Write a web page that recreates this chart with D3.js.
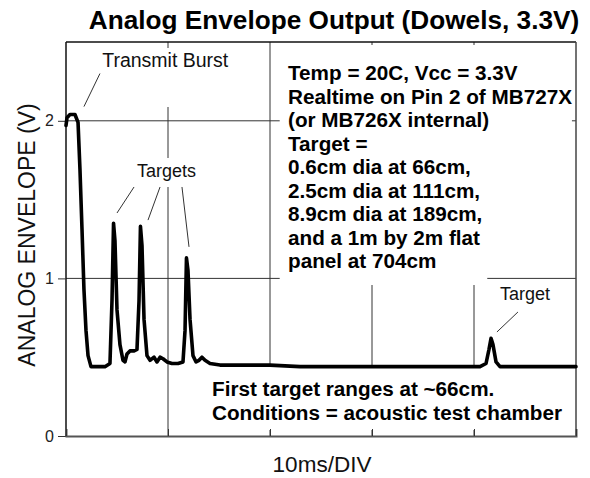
<!DOCTYPE html>
<html>
<head>
<meta charset="utf-8">
<script src="https://cdn.jsdelivr.net/npm/d3@7"></script>
<style>
  html, body { margin: 0; padding: 0; background: #fff; }
  svg { display: block; font-family: "Liberation Sans", Arial, sans-serif; }
</style>
</head>
<body>
<div id="chart"></div>
<script>
// ---------------- data ----------------
const chartTitle = "Analog Envelope Output (Dowels, 3.3V)";
const yAxisLabel = "ANALOG ENVELOPE (V)";
const xAxisLabel = "10ms/DIV";

// time in ms (10 ms per division, 5 divisions)
const timeMs = [
  0, 0.1, 0.39, 0.88, 1.18, 1.37, 1.57, 1.76, 1.96, 2.16, 2.45, 2.84, 3.33, 3.82,
  4.31, 4.51, 4.66, 4.8, 5.0, 5.29, 5.59, 5.78, 5.98, 6.27, 6.67, 6.96,
  7.16, 7.3, 7.45, 7.65, 7.94, 8.24, 8.63, 8.92, 9.22, 9.51, 9.9, 10.39, 10.98,
  11.47, 11.67, 11.81, 11.96, 12.16, 12.45, 12.75, 13.04, 13.33, 13.63, 14.12,
  15.1, 17.06, 20.0, 22.94, 25.88, 28.82, 32.75, 37.65, 40.59,
  41.18, 41.47, 41.67, 41.86, 42.16, 42.55, 45.49, 50
];
// envelope voltage in V
const envelopeV = [
  1.97, 2.02, 2.04, 2.04, 1.99, 1.69, 1.31, 0.93, 0.67, 0.51, 0.44, 0.44, 0.44, 0.44,
  0.46, 0.86, 1.35, 1.24, 0.80, 0.58, 0.48, 0.47, 0.52, 0.54, 0.54, 0.55,
  0.86, 1.33, 1.21, 0.74, 0.51, 0.48, 0.50, 0.47, 0.50, 0.49, 0.47, 0.46, 0.46,
  0.47, 0.67, 1.13, 1.05, 0.74, 0.51, 0.47, 0.48, 0.50, 0.48, 0.46,
  0.45, 0.45, 0.45, 0.44, 0.44, 0.44, 0.44, 0.44, 0.44,
  0.46, 0.55, 0.62, 0.58, 0.47, 0.44, 0.44, 0.44
];

const yTickValues = [0, 1, 2];
const yTickLabels = ["0", "1", "2"];
const xTickValues = [0, 10, 20, 30, 40, 50];

const infoLines = [
  "Temp = 20C, Vcc = 3.3V",
  "Realtime on Pin 2 of MB727X",
  "(or MB726X internal)",
  "Target =",
  "0.6cm dia at 66cm,",
  "2.5cm dia at 111cm,",
  "8.9cm dia at 189cm,",
  "and a 1m by 2m flat",
  "panel at 704cm"
];
const noteLines = [
  "First target ranges at ~66cm.",
  "Conditions = acoustic test chamber"
];

// ---------------- layout ----------------
const W = 590, H = 478;
const plot = { left: 66, right: 576, top: 42, bottom: 436 };

const svg = d3.select("#chart").append("svg")
  .attr("width", W).attr("height", H);

const x = d3.scaleLinear().domain([0, 50]).range([plot.left, plot.right]);
const y = d3.scaleLinear().domain([0, 2.5]).range([plot.bottom, plot.top]);

const FONT_BOLD = 20.7;

// gridlines
const grid = svg.append("g").attr("stroke", "#333").attr("stroke-width", 1);
grid.selectAll("line.v").data(xTickValues.slice(1, -1)).join("line")
  .attr("x1", d => x(d)).attr("x2", d => x(d))
  .attr("y1", plot.top).attr("y2", plot.bottom);
grid.selectAll("line.h").data(yTickValues.slice(1)).join("line")
  .attr("x1", plot.left).attr("x2", plot.right)
  .attr("y1", d => y(d)).attr("y2", d => y(d));

// white label boxes (hide parts of the grid)
const boxes = [
  { x0: x(3.1), x1: x(16.5), y0: 48, y1: 107 },   // Transmit Burst
  { x0: x(6.4), x1: x(13.3), y0: 158, y1: 187 },  // Targets
  { x0: x(20.95), x1: x(49.6), y0: 45, y1: 272 }, // info
  { x0: x(20.95), x1: x(41.3), y0: 265, y1: 285 },
  { x0: x(13.6), x1: x(49.6), y0: 366, y1: 430 }  // note
];
svg.append("g").selectAll("rect").data(boxes).join("rect")
  .attr("x", d => d.x0).attr("y", d => d.y0)
  .attr("width", d => d.x1 - d.x0).attr("height", d => d.y1 - d.y0)
  .attr("fill", "#fff");

// plot border
svg.append("line").attr("x1", plot.left).attr("x2", plot.right)
  .attr("y1", plot.top).attr("y2", plot.top)
  .attr("stroke", "#111").attr("stroke-width", 1.5);
svg.append("line").attr("x1", plot.left).attr("x2", plot.left)
  .attr("y1", plot.top).attr("y2", plot.bottom)
  .attr("stroke", "#111").attr("stroke-width", 1.5);
svg.append("line").attr("x1", plot.right).attr("x2", plot.right)
  .attr("y1", plot.top).attr("y2", plot.bottom)
  .attr("stroke", "#444").attr("stroke-width", 1.5);

// y axis
const yAxis = d3.axisLeft(y).tickValues(yTickValues)
  .tickFormat((d, i) => yTickLabels[i]).tickSize(8).tickPadding(4);
const gy = svg.append("g").attr("transform", `translate(${plot.left},0)`).call(yAxis);
gy.select(".domain").remove();
gy.selectAll(".tick line").attr("stroke", "#333");
gy.selectAll(".tick text").attr("font-size", 16).attr("fill", "#222")
  .attr("font-family", "Liberation Sans, Arial, sans-serif");

// x axis (ticks inward)
const xAxis = d3.axisBottom(x).tickValues(xTickValues).tickSize(-7).tickFormat("");
const gx = svg.append("g").attr("transform", `translate(0,${plot.bottom})`).call(xAxis);
gx.select(".domain").attr("stroke", "#555").attr("stroke-width", 2);
gx.selectAll(".tick line").attr("stroke", "#333");

// trace
const line = d3.line().x((d, i) => x(timeMs[i])).y(d => y(d)).curve(d3.curveLinear);
svg.append("path").datum(envelopeV)
  .attr("d", line)
  .attr("fill", "none").attr("stroke", "#000")
  .attr("stroke-width", 3.6).attr("stroke-linejoin", "round").attr("stroke-linecap", "round");

// leader lines (in data coordinates)
const leaders = [
  [3.33, 2.30, 1.76, 2.09],
  [6.67, 1.58, 5.0, 1.415],
  [9.22, 1.58, 8.04, 1.37],
  [11.37, 1.58, 12.06, 1.20],
  [44.31, 0.787, 42.25, 0.66]
];
svg.append("g").selectAll("line").data(leaders).join("line")
  .attr("x1", d => x(d[0])).attr("y1", d => y(d[1]))
  .attr("x2", d => x(d[2])).attr("y2", d => y(d[3]))
  .attr("stroke", "#333").attr("stroke-width", 1);

// annotation labels
svg.append("text").attr("x", x(3.55)).attr("y", 67)
  .attr("font-size", 19.5).attr("fill", "#111").text("Transmit Burst");
svg.append("text").attr("x", x(6.95)).attr("y", 177)
  .attr("font-size", 18).attr("fill", "#111").text("Targets");
svg.append("text").attr("x", x(42.55)).attr("y", 300)
  .attr("font-size", 18).attr("fill", "#111").text("Target");

// info text block
svg.append("g").selectAll("text").data(infoLines).join("text")
  .attr("x", 288).attr("y", (d, i) => 80 + i * 23.5)
  .attr("font-size", FONT_BOLD).attr("font-weight", "bold").attr("fill", "#000")
  .text(d => d);

// note text block
svg.append("g").selectAll("text").data(noteLines).join("text")
  .attr("x", 212).attr("y", (d, i) => 396 + i * 23.5)
  .attr("font-size", FONT_BOLD).attr("font-weight", "bold").attr("fill", "#000")
  .text(d => d);

// title
svg.append("text").attr("x", 334).attr("y", 29).attr("text-anchor", "middle")
  .attr("font-size", 26.2).attr("font-weight", "bold").attr("fill", "#000")
  .text(chartTitle);

// axis titles
svg.append("text").attr("x", 322).attr("y", 472).attr("text-anchor", "middle")
  .attr("font-size", 22.5).attr("fill", "#111").text(xAxisLabel);
svg.append("text")
  .attr("transform", `translate(35,235) rotate(-90)`)
  .attr("text-anchor", "middle")
  .attr("font-size", 23).attr("fill", "#111").text(yAxisLabel);
</script>
</body>
</html>
